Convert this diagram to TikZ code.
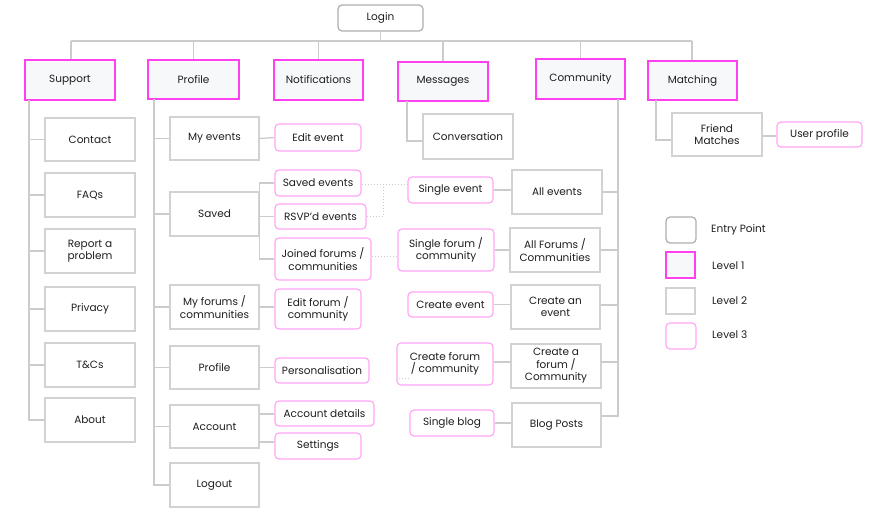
\documentclass[tikz,border=0pt]{standalone}
\usepackage{fontspec}
\setmainfont{Poppins}
\usetikzlibrary{calc}
\definecolor{lnc}{HTML}{CCCCCC}
\definecolor{mag}{HTML}{FF40F0}
\definecolor{pnk}{HTML}{FFA6F6}
\definecolor{gr2}{HTML}{D2D2D2}
\definecolor{entc}{HTML}{AEAEAE}
\definecolor{l1fill}{HTML}{F7F8FA}
\definecolor{txt}{HTML}{1E1E1E}
\tikzset{
  sz/.style 2 args={minimum width=#1pt, minimum height=#2pt},
  base/.style={inner sep=0pt, align=center, text=txt, font=\fontsize{10.5}{12.5}\selectfont},
  entry/.style={base, draw=entc, line width=1.2pt, rounded corners=4pt, fill=white},
  lvlone/.style={base, draw=mag, line width=1.5pt, fill=l1fill},
  lvltwo/.style={base, draw=gr2, line width=1.5pt, fill=white},
  lvlthree/.style={base, draw=pnk, line width=1.2pt, rounded corners=4pt, fill=white},
  conn/.style={draw=lnc, line width=1.3pt},
  dotc/.style={draw=lnc, line width=1pt, dotted},
  legtxt/.style={base, anchor=west}
}
\begin{document}
\begin{tikzpicture}[x=1pt,y=-1pt]
\useasboundingbox (0,0) rectangle (872,513);
\coordinate (busL) at (71,41);
\coordinate (busR) at (692,41);
\coordinate (st) at (29,100);
\coordinate (pt) at (154,99);
\coordinate (mt) at (407,101);
\coordinate (ct) at (618,99);
\coordinate (mat) at (656,100);
\coordinate (dj) at (383,185);
\coordinate (stubA) at (399,378);
\coordinate (stubB) at (409,378);

% entry
\node[entry, sz={85}{26}] (login) at (380.5,18) {Login};
% level 1
\node[lvlone, sz={90}{40}] (support) at (70,80) {Support};
\node[lvlone, sz={91}{39}] (profile) at (193.5,79.5) {Profile};
\node[lvlone, sz={89}{40}] (notif) at (318.5,80) {Notifications};
\node[lvlone, sz={90}{39}] (messages) at (443,81.5) {Messages};
\node[lvlone, sz={89}{40}] (community) at (580.5,79) {Community};
\node[lvlone, sz={89}{39}] (matching) at (692.5,80.5) {Matching};

% support children
\node[lvltwo, sz={90}{43}] (contact) at (90,139.5) {Contact};
\node[lvltwo, sz={90}{44}] (faqs) at (90,195) {FAQs};
\node[lvltwo, sz={90}{44}] (report) at (90,251) {Report a\\problem};
\node[lvltwo, sz={90}{44}] (privacy) at (90,309) {Privacy};
\node[lvltwo, sz={90}{44}] (tcs) at (90,365) {T\&Cs};
\node[lvltwo, sz={90}{44}] (about) at (90,420) {About};

% profile children
\node[lvltwo, sz={89}{43}] (myevents) at (214.5,138.5) {My events};
\node[lvltwo, sz={89}{44}] (saved) at (214.5,214) {Saved};
\node[lvltwo, sz={89}{44}] (myforums) at (214.5,307) {My forums /\\communities};
\node[lvltwo, sz={89}{43}] (profile2) at (214.5,367.5) {Profile};
\node[lvltwo, sz={89}{43}] (account) at (214.5,426.5) {Account};
\node[lvltwo, sz={89}{44}] (logout) at (214.5,485) {Logout};

% level 3 under profile
\node[lvlthree, sz={86}{27}] (editev) at (318,137.5) {Edit event};
\node[lvlthree, sz={86}{26}] (sevents) at (318,183) {Saved events};
\node[lvlthree, sz={91}{25}] (rsvp) at (320.5,216.5) {RSVP'd events};
\node[lvlthree, sz={96}{42}] (joined) at (323,259) {Joined forums /\\communities};
\node[lvlthree, sz={86}{40}] (editforum) at (318,309) {Edit forum /\\community};
\node[lvlthree, sz={94}{25}] (personal) at (322,370.5) {Personalisation};
\node[lvlthree, sz={99}{25}] (accdet) at (324.5,413.5) {Account details};
\node[lvlthree, sz={86}{26}] (settings) at (318,446) {Settings};

% messages child
\node[lvltwo, sz={90}{45}] (conv) at (468,136.5) {Conversation};

% community children
\node[lvltwo, sz={90}{44}] (allev) at (557,192) {All events};
\node[lvltwo, sz={90}{44}] (allforums) at (555,250) {All Forums /\\Communities};
\node[lvltwo, sz={89}{44}] (createev) at (555.5,307) {Create an\\event};
\node[lvltwo, sz={90}{44}] (createfo) at (556,366) {Create a\\forum /\\Community};
\node[lvltwo, sz={89}{44}] (blog) at (556.5,425) {Blog Posts};

% level 3 middle
\node[lvlthree, sz={85}{26}] (sev) at (450.5,190) {Single event};
\node[lvlthree, sz={96}{42}] (sforum) at (446,250) {Single forum /\\community};
\node[lvlthree, sz={85}{25}] (cev) at (450.5,304.5) {Create event};
\node[lvlthree, sz={96}{42}] (cforum) at (445,364) {Create forum\\/ community};
\node[lvlthree, sz={84}{26}] (sblog) at (452,423) {Single blog};

% matching
\node[lvltwo, sz={90}{43}] (fm) at (717,134.5) {Friend\\Matches};
\node[lvlthree, sz={85}{25}] (uprof) at (819.5,134.5) {User profile};

% legend
\node[entry, sz={30}{26}] (lg0) at (681,230) {};
\node[lvlone, sz={29}{26}] (lg1) at (680.5,265) {};
\node[lvltwo, sz={29}{26}] (lg2) at (680.5,301) {};
\node[lvlthree, sz={30}{26}] (lg3) at (681,336) {};
\node[legtxt] (lt0) at (711,230) {Entry Point};
\node[legtxt] (lt1) at (712,266) {Level 1};
\node[legtxt] (lt2) at (712,301) {Level 2};
\node[legtxt] (lt3) at (712,335) {Level 3};

% ---- connectors
\draw[conn] (login.south) -- (login.south |- busL);
\draw[conn] (busL) -- (busR);
\draw[conn] (busL) -- (support.north -| busL);
\draw[conn] (profile.north) -- (profile.north |- busL);
\draw[conn] (notif.north) -- (notif.north |- busL);
\draw[conn] (messages.north) -- (messages.north |- busL);
\draw[conn] (community.north) -- (community.north |- busL);
\draw[conn] (busR) -- (matching.north -| busR);

% support trunk
\draw[conn] (st) |- (about.west);
\foreach \n in {contact,faqs,report,privacy,tcs} \draw[conn] (st |- \n.west) -- (\n.west);

% profile trunk
\draw[conn] (pt) |- (logout.west);
\foreach \n in {myevents,saved,myforums,profile2,account} \draw[conn] (pt |- \n.west) -- (\n.west);

% profile level3
\draw[conn] (myevents.east) -- (editev.west);
\draw[conn] (sevents.west) -- (sevents.west -| saved.east) -- (joined.west -| saved.east) -- (joined.west);
\draw[conn] (rsvp.west -| saved.east) -- (rsvp.west);
\draw[conn] (myforums.east) -- (myforums.east -| editforum.west);
\draw[conn] (profile2.east) -- (profile2.east -| personal.west);
\draw[conn] ([yshift=12.5pt]account.east) -- ([yshift=12.5pt]account.east -| accdet.west);
\draw[conn] ([yshift=-15.5pt]account.east) -- ([yshift=-15.5pt]account.east -| settings.west);

% dotted cross links
\draw[dotc] ([yshift=-2pt]sevents.east) -- ([yshift=-2pt]sevents.east -| sev.west);
\draw[dotc] (rsvp.east) -| (dj);
\draw[dotc] ([yshift=3pt]joined.east) -- ([yshift=3pt]joined.east -| sforum.west);
\draw[dotc] (stubA) -- (stubB);

% messages
\draw[conn] (mt) |- ([yshift=-4.5pt]conv.west);

% community trunk
\draw[conn] (ct) |- ([yshift=9pt]blog.east);
\draw[conn] (allev.east) -- (allev.east -| ct);
\draw[conn] (allforums.east) -- (allforums.east -| ct);
\draw[conn] ([yshift=2pt]createev.east) -- ([yshift=2pt]createev.east -| ct);
\draw[conn] ([yshift=4pt]createfo.east) -- ([yshift=4pt]createfo.east -| ct);

% community level3
\draw[conn] (sev.east) -- (sev.east -| allev.west);
\draw[conn] (sforum.east) -- (sforum.east -| allforums.west);
\draw[conn] (cev.east) -- (cev.east -| createev.west);
\draw[conn] ([yshift=2pt]cforum.east) -- ([yshift=2pt]cforum.east -| createfo.west);
\draw[conn] (sblog.east) -- (sblog.east -| blog.west);

% matching
\draw[conn] (mat) |- ([yshift=-5.5pt]fm.west);
\draw[conn] ([yshift=-1.5pt]fm.east) -- ([yshift=-1.5pt]fm.east -| uprof.west);
\end{tikzpicture}
\end{document}
